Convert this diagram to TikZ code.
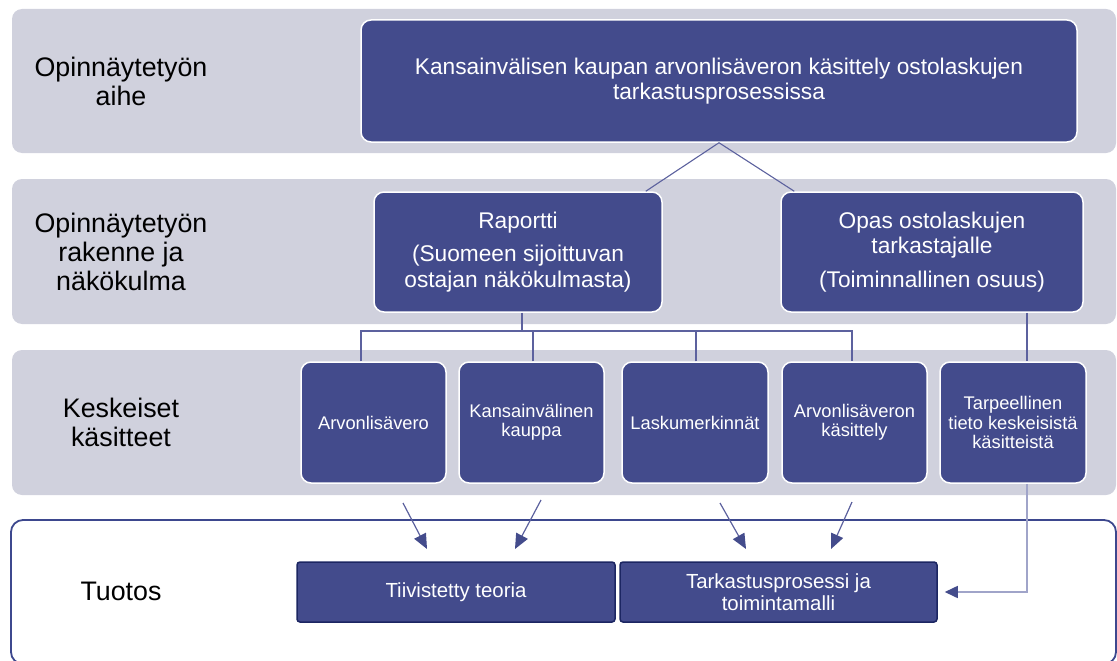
\documentclass[tikz,border=0pt]{standalone}
\usepackage{fontspec}
\setmainfont{Liberation Sans}
\usetikzlibrary{arrows.meta,calc}
\definecolor{band}{RGB}{208,209,221}
\definecolor{boxfill}{RGB}{67,75,140}
\definecolor{treeline}{RGB}{92,97,158}
\definecolor{frame}{RGB}{61,72,142}
\definecolor{outline}{RGB}{28,38,98}
\definecolor{feed}{RGB}{160,164,201}
\definecolor{tipcol}{RGB}{68,76,140}

\begin{document}
\begin{tikzpicture}[x=1pt,y=-1pt,
  bandbox/.style={fill=band, draw=none, rounded corners=10pt},
  rowlabel/.style={align=center, inner sep=0pt, text=black,
    font=\fontsize{26.8}{29}\selectfont},
  bluebox/.style={rectangle, rounded corners=10pt, fill=boxfill, draw=white,
    line width=1.5pt, text=white, align=center, inner sep=0pt},
  mainbox/.style={bluebox, font=\fontsize{22.7}{25.5}\selectfont},
  conceptbox/.style={bluebox, minimum width=145pt, minimum height=121pt,
    font=\fontsize{18.3}{19.2}\selectfont},
  outbox/.style={rectangle, rounded corners=3pt, fill=boxfill, draw=outline,
    line width=1.5pt, text=white, align=center, inner sep=0pt,
    minimum height=60pt, font=\fontsize{20.4}{22.5}\selectfont},
  tree/.style={draw=treeline, line width=1.1pt},
  flow/.style={draw=treeline, line width=1.2pt,
    -{Triangle[length=15pt,width=13pt,color=tipcol]}},
  feedline/.style={draw=feed, line width=1.6pt,
    -{Triangle[length=13pt,width=12pt,color=tipcol]}}
]
\useasboundingbox (0,0) rectangle (1117,661);

% background bands
\path[bandbox] (12,9) rectangle (1116,153);
\path[bandbox] (12,179) rectangle (1116,324);
\path[bandbox] (12,350) rectangle (1116,495);
\draw[draw=frame, line width=1.8pt, rounded corners=12pt] (11,520) rectangle (1116,664);

% row labels
\node[rowlabel] (l1) at (121,81) {Opinnäytetyön\\aihe};
\node[rowlabel] (l2) at (121,251.5) {Opinnäytetyön\\rakenne ja\\näkökulma};
\node[rowlabel] (l3) at (121,422.5) {Keskeiset\\käsitteet};
\node[rowlabel] (l4) at (121,591) {Tuotos};

% topic
\node[mainbox, minimum width=716pt, minimum height=122pt] (top) at (719,81)
  {Kansainvälisen kaupan arvonlisäveron käsittely ostolaskujen\\tarkastusprosessissa};

% structure
\node[mainbox, minimum width=288pt, minimum height=120pt] (rap) at (518,252)
  {Raportti\\[8pt](Suomeen sijoittuvan\\ostajan näkökulmasta)};
\node[mainbox, minimum width=302pt, minimum height=120pt] (opas) at (932,252)
  {Opas ostolaskujen\\tarkastajalle\\[8pt](Toiminnallinen osuus)};

% key concepts
\node[conceptbox] (b1) at (373.5,422.5) {Arvonlisävero};
\node[conceptbox] (b2) at (531.5,422.5) {Kansainvälinen\\kauppa};
\node[conceptbox, minimum width=146pt] (b3) at (695,422.5) {Laskumerkinnät};
\node[conceptbox] (b4) at (854.5,422.5) {Arvonlisäveron\\käsittely};
\node[conceptbox, minimum width=146pt] (b5) at (1013,422.5) {Tarpeellinen\\tieto keskeisistä\\käsitteistä};

% outputs
\node[outbox, minimum width=318pt] (tt) at (456,592) {Tiivistetty teoria};
\node[outbox, minimum width=317pt] (tp) at (778.5,592) {Tarkastusprosessi ja\\toimintamalli};

% topic to structure
\coordinate (rapIn) at ($(rap.north east)+(-17,0)$);
\coordinate (opasIn) at ($(opas.north west)+(14,0)$);
\draw[tree] (rapIn) -- (top.south) -- (opasIn);

% report to key concepts
\coordinate (bus) at (0,331);
\coordinate (rapOut) at ($(rap.south)+(4,0)$);
\coordinate (b1In) at ($(b1.north)+(-12.5,0)$);
\coordinate (b2In) at ($(b2.north)+(1.5,0)$);
\coordinate (b3In) at ($(b3.north)+(1,0)$);
\coordinate (b4In) at ($(b4.north)+(-2.5,0)$);
\draw[tree] (rapOut) -- (rapOut |- bus);
\draw[tree] (b1In) -- (b1In |- bus) -- (b4In |- bus) -- (b4In);
\draw[tree] (b2In) -- (b2In |- bus);
\draw[tree] (b3In) -- (b3In |- bus);

% guide to its key concept
\coordinate (opasOut) at ($(opas.south)+(95,0)$);
\coordinate (b5In) at ($(b5.north)+(14,0)$);
\coordinate (b5Out) at ($(b5.south)+(14,0)$);
\draw[tree] (opasOut) -- (b5In);

% concepts feeding the outputs
\coordinate (s1) at (403,503);
\coordinate (e1) at (427,549);
\coordinate (s2) at (541,500);
\coordinate (e2) at (515,549);
\coordinate (s3) at (720,503);
\coordinate (e3) at (746,549);
\coordinate (s4) at (852,502);
\coordinate (e4) at (831,549);
\draw[flow] (s1) -- (e1);
\draw[flow] (s2) -- (e2);
\draw[flow] (s3) -- (e3);
\draw[flow] (s4) -- (e4);

\draw[feedline, shorten >=7pt] (b5Out) |- (tp.east);
\end{tikzpicture}
\end{document}
